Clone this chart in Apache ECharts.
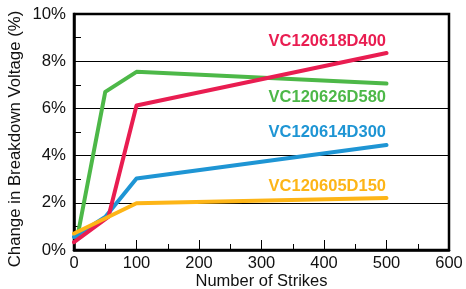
<!DOCTYPE html>
<html>
<head>
<meta charset="utf-8">
<script src="https://cdn.jsdelivr.net/npm/echarts@6/dist/echarts.min.js"></script>
<style>
  html, body { margin: 0; padding: 0; background: #fff; }
  #chart { width: 466px; height: 289px; }
</style>
</head>
<body>
<div id="chart"></div>
<script>
// series values, [strikes, % change]
const green580 = [[5, 0.5], [50, 6.7], [100, 7.55], [500, 7.05]];
const blue300 = [[0, 0.55], [50, 1.4], [100, 3.03], [500, 4.45]];
const red400 = [[0, 0.33], [55, 1.4], [100, 6.12], [500, 8.35]];
const orange150 = [[0, 0.7], [100, 1.98], [500, 2.2]];

const seriesNames = ['VC120626D580', 'VC120614D300', 'VC120618D400', 'VC120605D150'];
const seriesColors = ['#4DB848', '#1E95D4', '#E91D51', '#FDB517'];
const seriesData = [green580, blue300, red400, orange150];
// where each name label sits (right edge), in data units
const labelAnchors = [[500, 6.48], [500, 4.96], [500, 8.83], [500, 2.71]];

const font = '"Liberation Sans", Arial, Helvetica, sans-serif';

const chart = echarts.init(document.getElementById('chart'), null, { renderer: 'canvas' });

const series = seriesData.map((data, i) => ({
    name: seriesNames[i],
    type: 'line',
    data: data,
    symbol: 'none',
    lineStyle: { color: seriesColors[i], width: 4, cap: 'round', join: 'round' },
    z: 3 + i,
    markPoint: {
        symbol: 'circle',
        symbolSize: 1,
        itemStyle: { color: 'rgba(0,0,0,0)' },
        data: [{ coord: labelAnchors[i] }],
        label: {
            show: true,
            formatter: seriesNames[i],
            position: 'left',
            distance: 0,
            color: seriesColors[i],
            fontFamily: font,
            fontWeight: 'bold',
            fontSize: 16.5
        }
    }
}));

chart.setOption({
    animation: false,
    backgroundColor: '#fff',
    grid: {
        left: 74, top: 14, right: 17, bottom: 39,
        outerBoundsMode: 'none',
        containLabel: false,
        show: true, borderColor: '#000', borderWidth: 2.5
    },
    xAxis: {
        type: 'value',
        min: 0, max: 600, interval: 100,
        name: 'Number of Strikes',
        nameLocation: 'middle',
        nameGap: 23,
        nameMoveOverlap: false,
        nameTextStyle: { fontFamily: font, fontSize: 16.5, color: '#111' },
        axisLine: { show: true, lineStyle: { color: '#000', width: 2.5 } },
        axisTick: { show: true, inside: true, length: 10, lineStyle: { color: '#000', width: 1 } },
        minorTick: { show: true, splitNumber: 2, length: 6, lineStyle: { color: '#000', width: 1 } },
        axisLabel: { fontFamily: font, fontSize: 16.5, color: '#111', margin: 5 },
        splitLine: { show: false }
    },
    yAxis: {
        type: 'value',
        min: 0, max: 10, interval: 2,
        name: 'Change in Breakdown Voltage (%)',
        nameLocation: 'middle',
        nameGap: 50,
        nameMoveOverlap: false,
        nameTextStyle: { fontFamily: font, fontSize: 16.8, color: '#111', padding: [0, 14, 0, 0] },
        axisLine: { show: true, lineStyle: { color: '#000', width: 2.5 } },
        axisTick: { show: true, inside: true, length: 7, lineStyle: { color: '#000', width: 1 } },
        minorTick: { show: true, splitNumber: 2, length: 7, lineStyle: { color: '#000', width: 1 } },
        axisLabel: { fontFamily: font, fontSize: 16.8, color: '#111', margin: 8, formatter: '{value}%' },
        splitLine: { show: true, lineStyle: { color: '#000', width: 1 } }
    },
    series: series
});
</script>
</body>
</html>
